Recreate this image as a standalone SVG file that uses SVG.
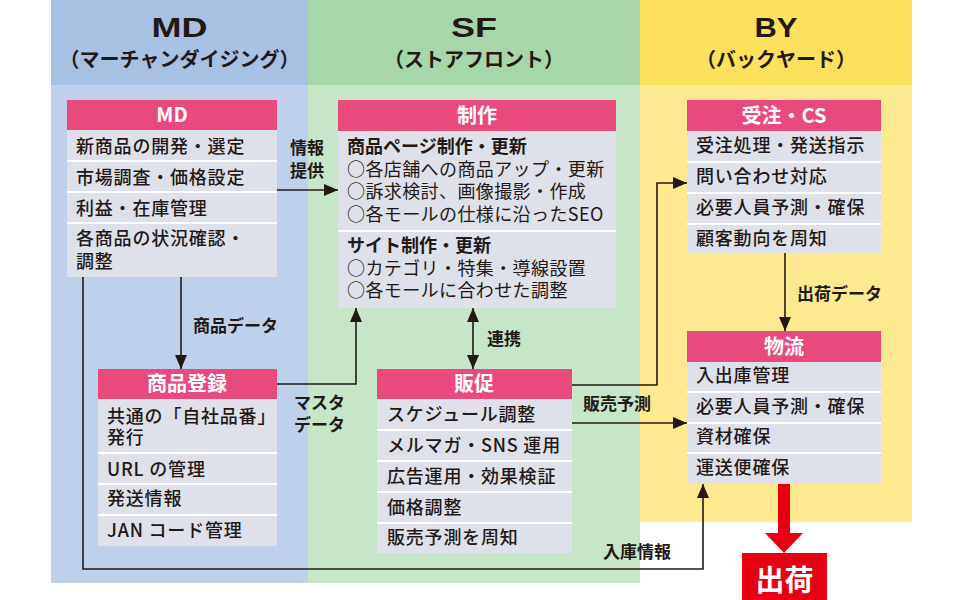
<svg xmlns="http://www.w3.org/2000/svg" width="970" height="600" viewBox="0 0 970 600">
<defs>
<style>
text{font-family:"Noto Sans CJK JP","Noto Sans",sans-serif;fill:#231815}
.colh{font-family:"Liberation Sans","Noto Sans",sans-serif;font-size:27px;font-weight:700;text-anchor:middle}
.cols{font-size:20px;font-weight:700;text-anchor:middle}
.bh{fill:#e84a7d}
.bb{fill:#dfe1ea}
.sep{stroke:#ffffff;stroke-width:2}
.ht{font-size:20px;font-weight:700;fill:#ffffff;text-anchor:middle}
.it{font-size:18px;font-weight:500;letter-spacing:0.8px}
.itb{font-size:18px;font-weight:700}
.o{font-size:18px;font-weight:400;letter-spacing:0.4px}
.lb{font-size:17px;font-weight:700}
.c{fill:none;stroke:#231815;stroke-width:1.6}
</style>
<marker id="ah" markerUnits="userSpaceOnUse" markerWidth="16" markerHeight="14" refX="14" refY="6" orient="auto-start-reverse">
<path d="M0,0 L14,6 L0,12 Z" fill="#231815"/>
</marker>
</defs>
<rect width="970" height="600" fill="#ffffff"/>
<g id="columns">
<rect x="51" y="0" width="257" height="85" fill="#a8c1e3"/>
<rect x="51" y="85" width="257" height="498" fill="#bfd1ea"/>
<rect x="308" y="0" width="332" height="85" fill="#a6d6a9"/>
<rect x="308" y="85" width="332" height="498" fill="#c6e5c9"/>
<rect x="640" y="0" width="272" height="85" fill="#fde05b"/>
<rect x="640" y="85" width="272" height="437" fill="#fde98f"/>
<text class="colh" x="179.5" y="37" textLength="56" lengthAdjust="spacingAndGlyphs">MD</text>
<text class="cols" x="179.5" y="67">（マーチャンダイジング）</text>
<text class="colh" x="474" y="37" textLength="46" lengthAdjust="spacingAndGlyphs">SF</text>
<text class="cols" x="474" y="67">（ストアフロント）</text>
<text class="colh" x="776" y="37" textLength="43" lengthAdjust="spacingAndGlyphs">BY</text>
<text class="cols" x="776" y="67">（バックヤード）</text>
</g>
<g id="connectors">
<line class="c" x1="277" y1="190" x2="338" y2="190" marker-end="url(#ah)"/>
<line class="c" x1="181" y1="277" x2="181" y2="369" marker-end="url(#ah)"/>
<polyline class="c" points="277,384 356,384 356,308" marker-end="url(#ah)"/>
<line class="c" x1="473" y1="308" x2="473" y2="369" marker-start="url(#ah)" marker-end="url(#ah)"/>
<polyline class="c" points="572,385 657,385 657,183 687,183" marker-end="url(#ah)"/>
<line class="c" x1="572" y1="423" x2="687" y2="423" marker-end="url(#ah)"/>
<line class="c" x1="785" y1="253" x2="785" y2="331" marker-end="url(#ah)"/>
<polyline class="c" points="83,277 83,569 703,569 703,484" marker-end="url(#ah)"/>
<path d="M778,484 H790 V533 H803 L784,553 L765,533 H778 Z" fill="#e60012"/>
<text class="lb"><tspan x="290" y="154">情報</tspan><tspan x="290" y="177">提供</tspan></text>
<text class="lb" x="193" y="332">商品データ</text>
<text class="lb"><tspan x="294" y="409">マスタ</tspan><tspan x="294" y="431">データ</tspan></text>
<text class="lb" x="487" y="345">連携</text>
<text class="lb" x="583" y="410">販売予測</text>
<text class="lb" x="797" y="300">出荷データ</text>
<text class="lb" x="603" y="558">入庫情報</text>
</g>
<g id="node-md">
<rect class="bh" x="67" y="100" width="210" height="30"/>
<rect class="bb" x="67" y="130" width="210" height="147"/>
<line class="sep" x1="67" y1="161" x2="277" y2="161"/>
<line class="sep" x1="67" y1="192" x2="277" y2="192"/>
<line class="sep" x1="67" y1="223" x2="277" y2="223"/>
<text class="ht" x="172" y="122">MD</text>
<text class="it" x="76" y="153">新商品の開発・選定</text>
<text class="it" x="76" y="184">市場調査・価格設定</text>
<text class="it" x="76" y="215">利益・在庫管理</text>
<text class="it"><tspan x="76" y="245">各商品の状況確認・</tspan><tspan x="76" y="268">調整</tspan></text>
</g>
<g id="node-seisaku">
<rect class="bh" x="338" y="100" width="278" height="31"/>
<rect class="bb" x="338" y="131" width="278" height="177"/>
<line class="sep" x1="338" y1="231" x2="616" y2="231"/>
<text class="ht" x="477" y="123">制作</text>
<text><tspan class="itb" x="347" y="153">商品ページ制作・更新</tspan><tspan class="o" x="347" y="176">○各店舗への商品アップ・更新</tspan><tspan class="o" x="347" y="198">○訴求検討、画像撮影・作成</tspan><tspan class="o" x="347" y="221">○各モールの仕様に沿ったSEO</tspan></text>
<text><tspan class="itb" x="347" y="252">サイト制作・更新</tspan><tspan class="o" x="347" y="275">○カテゴリ・特集・導線設置</tspan><tspan class="o" x="347" y="297">○各モールに合わせた調整</tspan></text>
</g>
<g id="node-juchu">
<rect class="bh" x="687" y="100" width="194" height="31"/>
<rect class="bb" x="687" y="131" width="194" height="122"/>
<line class="sep" x1="687" y1="162" x2="881" y2="162"/>
<line class="sep" x1="687" y1="193" x2="881" y2="193"/>
<line class="sep" x1="687" y1="224" x2="881" y2="224"/>
<text class="ht" x="784" y="123">受注・CS</text>
<text class="it" x="696" y="152">受注処理・発送指示</text>
<text class="it" x="696" y="183">問い合わせ対応</text>
<text class="it" x="696" y="214">必要人員予測・確保</text>
<text class="it" x="696" y="245">顧客動向を周知</text>
</g>
<g id="node-shohin">
<rect class="bh" x="98" y="369" width="179" height="30"/>
<rect class="bb" x="98" y="399" width="179" height="147"/>
<line class="sep" x1="98" y1="453" x2="277" y2="453"/>
<line class="sep" x1="98" y1="484" x2="277" y2="484"/>
<line class="sep" x1="98" y1="515" x2="277" y2="515"/>
<text class="ht" x="187" y="391">商品登録</text>
<text class="it"><tspan x="107" y="423">共通の「自社品番」</tspan><tspan x="107" y="444">発行</tspan></text>
<text class="it" x="107" y="476">URL の管理</text>
<text class="it" x="107" y="505">発送情報</text>
<text class="it" x="107" y="537">JAN コード管理</text>
</g>
<g id="node-hansoku">
<rect class="bh" x="377" y="369" width="195" height="30"/>
<rect class="bb" x="377" y="399" width="195" height="154"/>
<line class="sep" x1="377" y1="430" x2="572" y2="430"/>
<line class="sep" x1="377" y1="461" x2="572" y2="461"/>
<line class="sep" x1="377" y1="492" x2="572" y2="492"/>
<line class="sep" x1="377" y1="523" x2="572" y2="523"/>
<text class="ht" x="474" y="391">販促</text>
<text class="it" x="387" y="421">スケジュール調整</text>
<text class="it" x="387" y="452">メルマガ・SNS 運用</text>
<text class="it" x="387" y="483">広告運用・効果検証</text>
<text class="it" x="387" y="514">価格調整</text>
<text class="it" x="387" y="544">販売予測を周知</text>
</g>
<g id="node-butsuryu">
<rect class="bh" x="687" y="331" width="194" height="31"/>
<rect class="bb" x="687" y="362" width="194" height="122"/>
<line class="sep" x1="687" y1="392" x2="881" y2="392"/>
<line class="sep" x1="687" y1="423" x2="881" y2="423"/>
<line class="sep" x1="687" y1="453" x2="881" y2="453"/>
<text class="ht" x="784" y="354">物流</text>
<text class="it" x="696" y="382">入出庫管理</text>
<text class="it" x="696" y="413">必要人員予測・確保</text>
<text class="it" x="696" y="443">資材確保</text>
<text class="it" x="696" y="474">運送便確保</text>
</g>
<g id="node-shukka">
<rect x="742" y="553" width="85" height="47" fill="#e60012"/>
<text x="784.5" y="591" style="font-size:29px;font-weight:700;fill:#ffffff;text-anchor:middle">出荷</text>
</g>
</svg>
